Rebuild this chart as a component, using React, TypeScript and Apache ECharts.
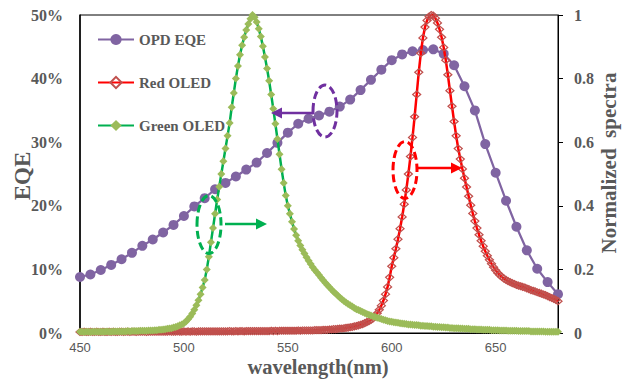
import React, { useEffect, useRef } from "react";
import * as echarts from "echarts";

// ---------- data ----------
const EQE_WAVELENGTHS = [
  450, 455, 460, 465, 470, 475, 480, 485, 490, 495,
  500, 505, 510, 515, 520, 525, 530, 535, 540, 545,
  550, 555, 560, 565, 570, 575, 580, 585, 590, 595,
  600, 605, 610, 615, 620, 625, 630, 635, 640, 645,
  650, 655, 660, 665, 670, 675, 680,
];
const OPD_EQE = [
  8.8, 9.2, 9.9, 10.7, 11.6, 12.6, 13.7, 14.7, 15.8, 17.0,
  18.4, 19.9, 21.2, 22.6, 23.6, 24.6, 25.7, 26.8, 28.3, 29.9,
  31.5, 32.9, 33.7, 34.2, 34.8, 35.6, 36.7, 38.2, 39.8, 41.4,
  42.9, 43.8, 44.3, 44.5, 44.6, 43.9, 42.1, 38.8, 35.0, 29.7,
  25.2, 20.8, 16.7, 13.0, 10.1, 8.0, 6.1,
];

// spectra sampled every 1 nm starting at 450 nm
const SPECTRUM_START_NM = 450;
const SPECTRUM_STEP_NM = 1;

const RED_OLED = [
  0.003, 0.003, 0.004, 0.003, 0.003, 0.004, 0.003, 0.003, 0.004, 0.003,
  0.003, 0.004, 0.003, 0.003, 0.004, 0.003, 0.004, 0.003, 0.003, 0.004,
  0.004, 0.003, 0.004, 0.004, 0.003, 0.004, 0.004, 0.003, 0.004, 0.004,
  0.004, 0.004, 0.003, 0.004, 0.004, 0.004, 0.004, 0.004, 0.004, 0.004,
  0.004, 0.004, 0.004, 0.005, 0.004, 0.004, 0.004, 0.005, 0.004, 0.004,
  0.005, 0.004, 0.005, 0.004, 0.005, 0.005, 0.004, 0.005, 0.005, 0.005,
  0.005, 0.005, 0.005, 0.005, 0.005, 0.005, 0.005, 0.005, 0.005, 0.005,
  0.005, 0.005, 0.006, 0.005, 0.005, 0.006, 0.005, 0.006, 0.006, 0.005,
  0.006, 0.006, 0.006, 0.006, 0.006, 0.006, 0.006, 0.006, 0.006, 0.006,
  0.006, 0.006, 0.007, 0.006, 0.007, 0.006, 0.007, 0.007, 0.007, 0.007,
  0.007, 0.007, 0.007, 0.007, 0.007, 0.008, 0.007, 0.008, 0.008, 0.008,
  0.008, 0.008, 0.008, 0.009, 0.009, 0.009, 0.009, 0.010, 0.010, 0.010,
  0.011, 0.011, 0.012, 0.012, 0.013, 0.014, 0.014, 0.015, 0.016, 0.017,
  0.018, 0.019, 0.021, 0.022, 0.024, 0.026, 0.028, 0.031, 0.034, 0.037,
  0.041, 0.046, 0.053, 0.062, 0.073, 0.086, 0.102, 0.122, 0.145, 0.175,
  0.21, 0.237, 0.265, 0.295, 0.328, 0.365, 0.405, 0.45, 0.5, 0.555,
  0.615, 0.68, 0.75, 0.82, 0.88, 0.928, 0.962, 0.983, 0.995, 1.0,
  0.998, 0.99, 0.975, 0.955, 0.93, 0.898, 0.858, 0.812, 0.762, 0.713,
  0.665, 0.62, 0.58, 0.547, 0.516, 0.487, 0.459, 0.43, 0.402, 0.376,
  0.352, 0.33, 0.309, 0.29, 0.273, 0.257, 0.243, 0.23, 0.218, 0.207,
  0.197, 0.189, 0.182, 0.176, 0.171, 0.167, 0.163, 0.16, 0.157, 0.154,
  0.151, 0.149, 0.147, 0.145, 0.143, 0.14, 0.138, 0.135, 0.133, 0.131,
  0.128, 0.126, 0.124, 0.121, 0.119, 0.116, 0.113, 0.11, 0.107, 0.104,
  0.1,
];

const GREEN_OLED = [
  0.004, 0.004, 0.003, 0.004, 0.004, 0.003, 0.004, 0.004, 0.004, 0.004,
  0.004, 0.004, 0.004, 0.005, 0.004, 0.004, 0.005, 0.005, 0.005, 0.005,
  0.005, 0.005, 0.005, 0.006, 0.005, 0.006, 0.006, 0.006, 0.006, 0.007,
  0.007, 0.007, 0.007, 0.008, 0.008, 0.008, 0.009, 0.009, 0.010, 0.010,
  0.011, 0.012, 0.013, 0.014, 0.015, 0.017, 0.019, 0.021, 0.024, 0.027,
  0.031, 0.036, 0.043, 0.051, 0.061, 0.073, 0.087, 0.103, 0.122, 0.143,
  0.167, 0.2, 0.24, 0.285, 0.33, 0.375, 0.42, 0.46, 0.5, 0.54,
  0.58, 0.62, 0.66, 0.71, 0.755, 0.8, 0.84, 0.875, 0.905, 0.93,
  0.953, 0.972, 0.988, 1.0, 0.993, 0.978, 0.957, 0.932, 0.902, 0.868,
  0.832, 0.793, 0.75, 0.705, 0.658, 0.61, 0.562, 0.515, 0.472, 0.432,
  0.4, 0.375, 0.35, 0.327, 0.307, 0.29, 0.275, 0.262, 0.25, 0.238,
  0.227, 0.217, 0.207, 0.198, 0.19, 0.182, 0.174, 0.166, 0.158, 0.151,
  0.144, 0.137, 0.13, 0.124, 0.118, 0.112, 0.106, 0.101, 0.096, 0.091,
  0.087, 0.083, 0.079, 0.075, 0.072, 0.069, 0.066, 0.063, 0.06, 0.057,
  0.055, 0.052, 0.05, 0.048, 0.046, 0.044, 0.042, 0.04, 0.038, 0.036,
  0.035, 0.034, 0.033, 0.032, 0.031, 0.03, 0.029, 0.028, 0.027, 0.027,
  0.026, 0.025, 0.025, 0.024, 0.023, 0.023, 0.022, 0.022, 0.021, 0.021,
  0.02, 0.02, 0.019, 0.019, 0.018, 0.018, 0.017, 0.017, 0.016, 0.016,
  0.015, 0.015, 0.015, 0.014, 0.014, 0.013, 0.013, 0.013, 0.012, 0.012,
  0.012, 0.011, 0.011, 0.011, 0.01, 0.01, 0.01, 0.01, 0.009, 0.009,
  0.009, 0.009, 0.008, 0.008, 0.008, 0.008, 0.007, 0.007, 0.007, 0.007,
  0.007, 0.006, 0.006, 0.006, 0.006, 0.006, 0.006, 0.005, 0.005, 0.005,
  0.005, 0.005, 0.005, 0.005, 0.004, 0.004, 0.004, 0.004, 0.004, 0.004,
  0.004,
];

const SERIES_NAMES = ["OPD EQE", "Red OLED", "Green OLED"];
const X_AXIS_RANGE = [450, 680];
const X_TICK_STEP = 50;
const EQE_AXIS_RANGE = [0, 50];
const EQE_TICK_STEP = 10;
const SPECTRA_AXIS_RANGE = [0, 1];
const SPECTRA_TICK_STEP = 0.2;

const AXIS_TITLES = { x: "wavelength(nm)", left: "EQE", right: "Normalized  spectra" };

// ---------- component ----------
const SERIF = "'Liberation Serif', 'Times New Roman', serif";
const GRAY = "#595959";

function spectrumPairs(values: number[]) {
  return values.map((v, i) => [SPECTRUM_START_NM + i * SPECTRUM_STEP_NM, v]);
}

function arrow(x1: number, x2: number, y: number, color: string) {
  const dir = x2 > x1 ? 1 : -1;
  const headLen = 11;
  const headHalf = 5.5;
  const base = x2 - dir * headLen;
  return [
    {
      type: "line",
      shape: { x1, y1: y, x2: base, y2: y },
      style: { stroke: color, lineWidth: 2.5 },
      z: 100,
    },
    {
      type: "polygon",
      shape: { points: [[x2, y], [base, y - headHalf], [base, y + headHalf]] },
      style: { fill: color },
      z: 100,
    },
  ];
}

function dashedEllipse(cx: number, cy: number, rx: number, ry: number, color: string) {
  return {
    type: "ellipse",
    shape: { cx, cy, rx, ry },
    style: { fill: "none", stroke: color, lineWidth: 3, lineDash: [8, 4] },
    z: 100,
  };
}

function axisTitle(text: string, x: number, y: number, size: number, lineHeight: number, rotated: boolean) {
  return {
    type: "text",
    x,
    y,
    rotation: rotated ? Math.PI / 2 : 0,
    style: {
      text,
      fontFamily: SERIF,
      fontWeight: "bold",
      fontSize: size,
      lineHeight,
      fill: GRAY,
      align: "center",
      verticalAlign: "middle",
    },
    z: 100,
  };
}

export default function App() {
  const ref = useRef<HTMLDivElement>(null);

  useEffect(() => {
    document.body.style.margin = "0";
    if (!ref.current) return;
    const chart = echarts.init(ref.current, undefined, { renderer: "svg" });

    const option: any = {
      animation: false,
      backgroundColor: "#ffffff",
      grid: {
        left: 80,
        right: 64,
        top: 15,
        bottom: 46,
        show: true,
        borderColor: "#000",
        borderWidth: 1,
        containLabel: false,
        outerBoundsMode: "none",
      },
      legend: {
        orient: "vertical",
        left: 92,
        top: 27,
        itemWidth: 36,
        itemHeight: 14,
        itemGap: 28,
        data: SERIES_NAMES,
        textStyle: {
          fontFamily: SERIF,
          fontWeight: "bold",
          fontSize: 15,
          color: GRAY,
          lineHeight: 14,
        },
      },
      xAxis: {
        type: "value",
        min: X_AXIS_RANGE[0],
        max: X_AXIS_RANGE[1],
        interval: X_TICK_STEP,
        splitLine: { show: false },
        axisTick: { show: false },
        axisLine: { show: true, onZero: false, lineStyle: { color: "#000", width: 1 } },
        axisLabel: {
          showMaxLabel: false,
          margin: 8,
          fontFamily: "'Liberation Sans', Arial, sans-serif",
          fontSize: 13,
          lineHeight: 13,
          color: GRAY,
        },
      },
      yAxis: [
        {
          type: "value",
          min: EQE_AXIS_RANGE[0],
          max: EQE_AXIS_RANGE[1],
          interval: EQE_TICK_STEP,
          position: "left",
          splitLine: { show: false },
          axisTick: { show: false },
          axisLine: { show: true, lineStyle: { color: "#000", width: 1.5 } },
          axisLabel: {
            formatter: "{value}%",
            margin: 17,
            fontFamily: SERIF,
            fontWeight: "bold",
            fontSize: 16,
            color: GRAY,
          },
        },
        {
          type: "value",
          min: SPECTRA_AXIS_RANGE[0],
          max: SPECTRA_AXIS_RANGE[1],
          interval: SPECTRA_TICK_STEP,
          position: "right",
          splitLine: { show: false },
          axisTick: { show: true, inside: false, length: 5, lineStyle: { color: "#000", width: 1 } },
          axisLine: { show: true, lineStyle: { color: "#000", width: 1 } },
          axisLabel: {
            margin: 16,
            fontFamily: SERIF,
            fontWeight: "bold",
            fontSize: 16,
            color: GRAY,
          },
        },
      ],
      series: [
        {
          name: SERIES_NAMES[0],
          type: "line",
          yAxisIndex: 0,
          data: EQE_WAVELENGTHS.map((w, i) => [w, OPD_EQE[i]]),
          symbol: "circle",
          symbolSize: 10,
          showAllSymbol: true,
          lineStyle: { color: "#8064A2", width: 2.25 },
          itemStyle: { color: "#8064A2" },
          z: 2,
        },
        {
          name: SERIES_NAMES[1],
          type: "line",
          yAxisIndex: 1,
          data: spectrumPairs(RED_OLED),
          symbol: "diamond",
          symbolSize: [8, 7],
          showAllSymbol: true,
          lineStyle: { color: "#FF0000", width: 2.5 },
          itemStyle: { color: "rgba(255,255,255,0)", borderColor: "#C0504D", borderWidth: 1.25 },
          z: 3,
        },
        {
          name: SERIES_NAMES[2],
          type: "line",
          yAxisIndex: 1,
          data: spectrumPairs(GREEN_OLED),
          symbol: "diamond",
          symbolSize: 8,
          showAllSymbol: true,
          lineStyle: { color: "#00B050", width: 2.5 },
          itemStyle: { color: "#9BBB59" },
          z: 4,
        },
      ],
      graphic: [
        dashedEllipse(325, 111, 12, 26, "#7030A0"),
        ...arrow(313, 271, 113, "#7030A0"),
        dashedEllipse(405, 170, 12, 28.5, "#FF0000"),
        ...arrow(418, 462, 168, "#FF0000"),
        dashedEllipse(209, 224.5, 12, 29, "#00B050"),
        ...arrow(225, 267, 224, "#00B050"),
        axisTitle(AXIS_TITLES.x, 318, 366.5, 20.5, 20, false),
        axisTitle(AXIS_TITLES.left, 22, 176, 23, 23, true),
        axisTitle(AXIS_TITLES.right, 609, 163, 21, 21, true),
      ],
    };

    chart.setOption(option);
    return () => {
      chart.dispose();
    };
  }, []);

  return <div ref={ref} style={{ width: 622, height: 379 }} />;
}
